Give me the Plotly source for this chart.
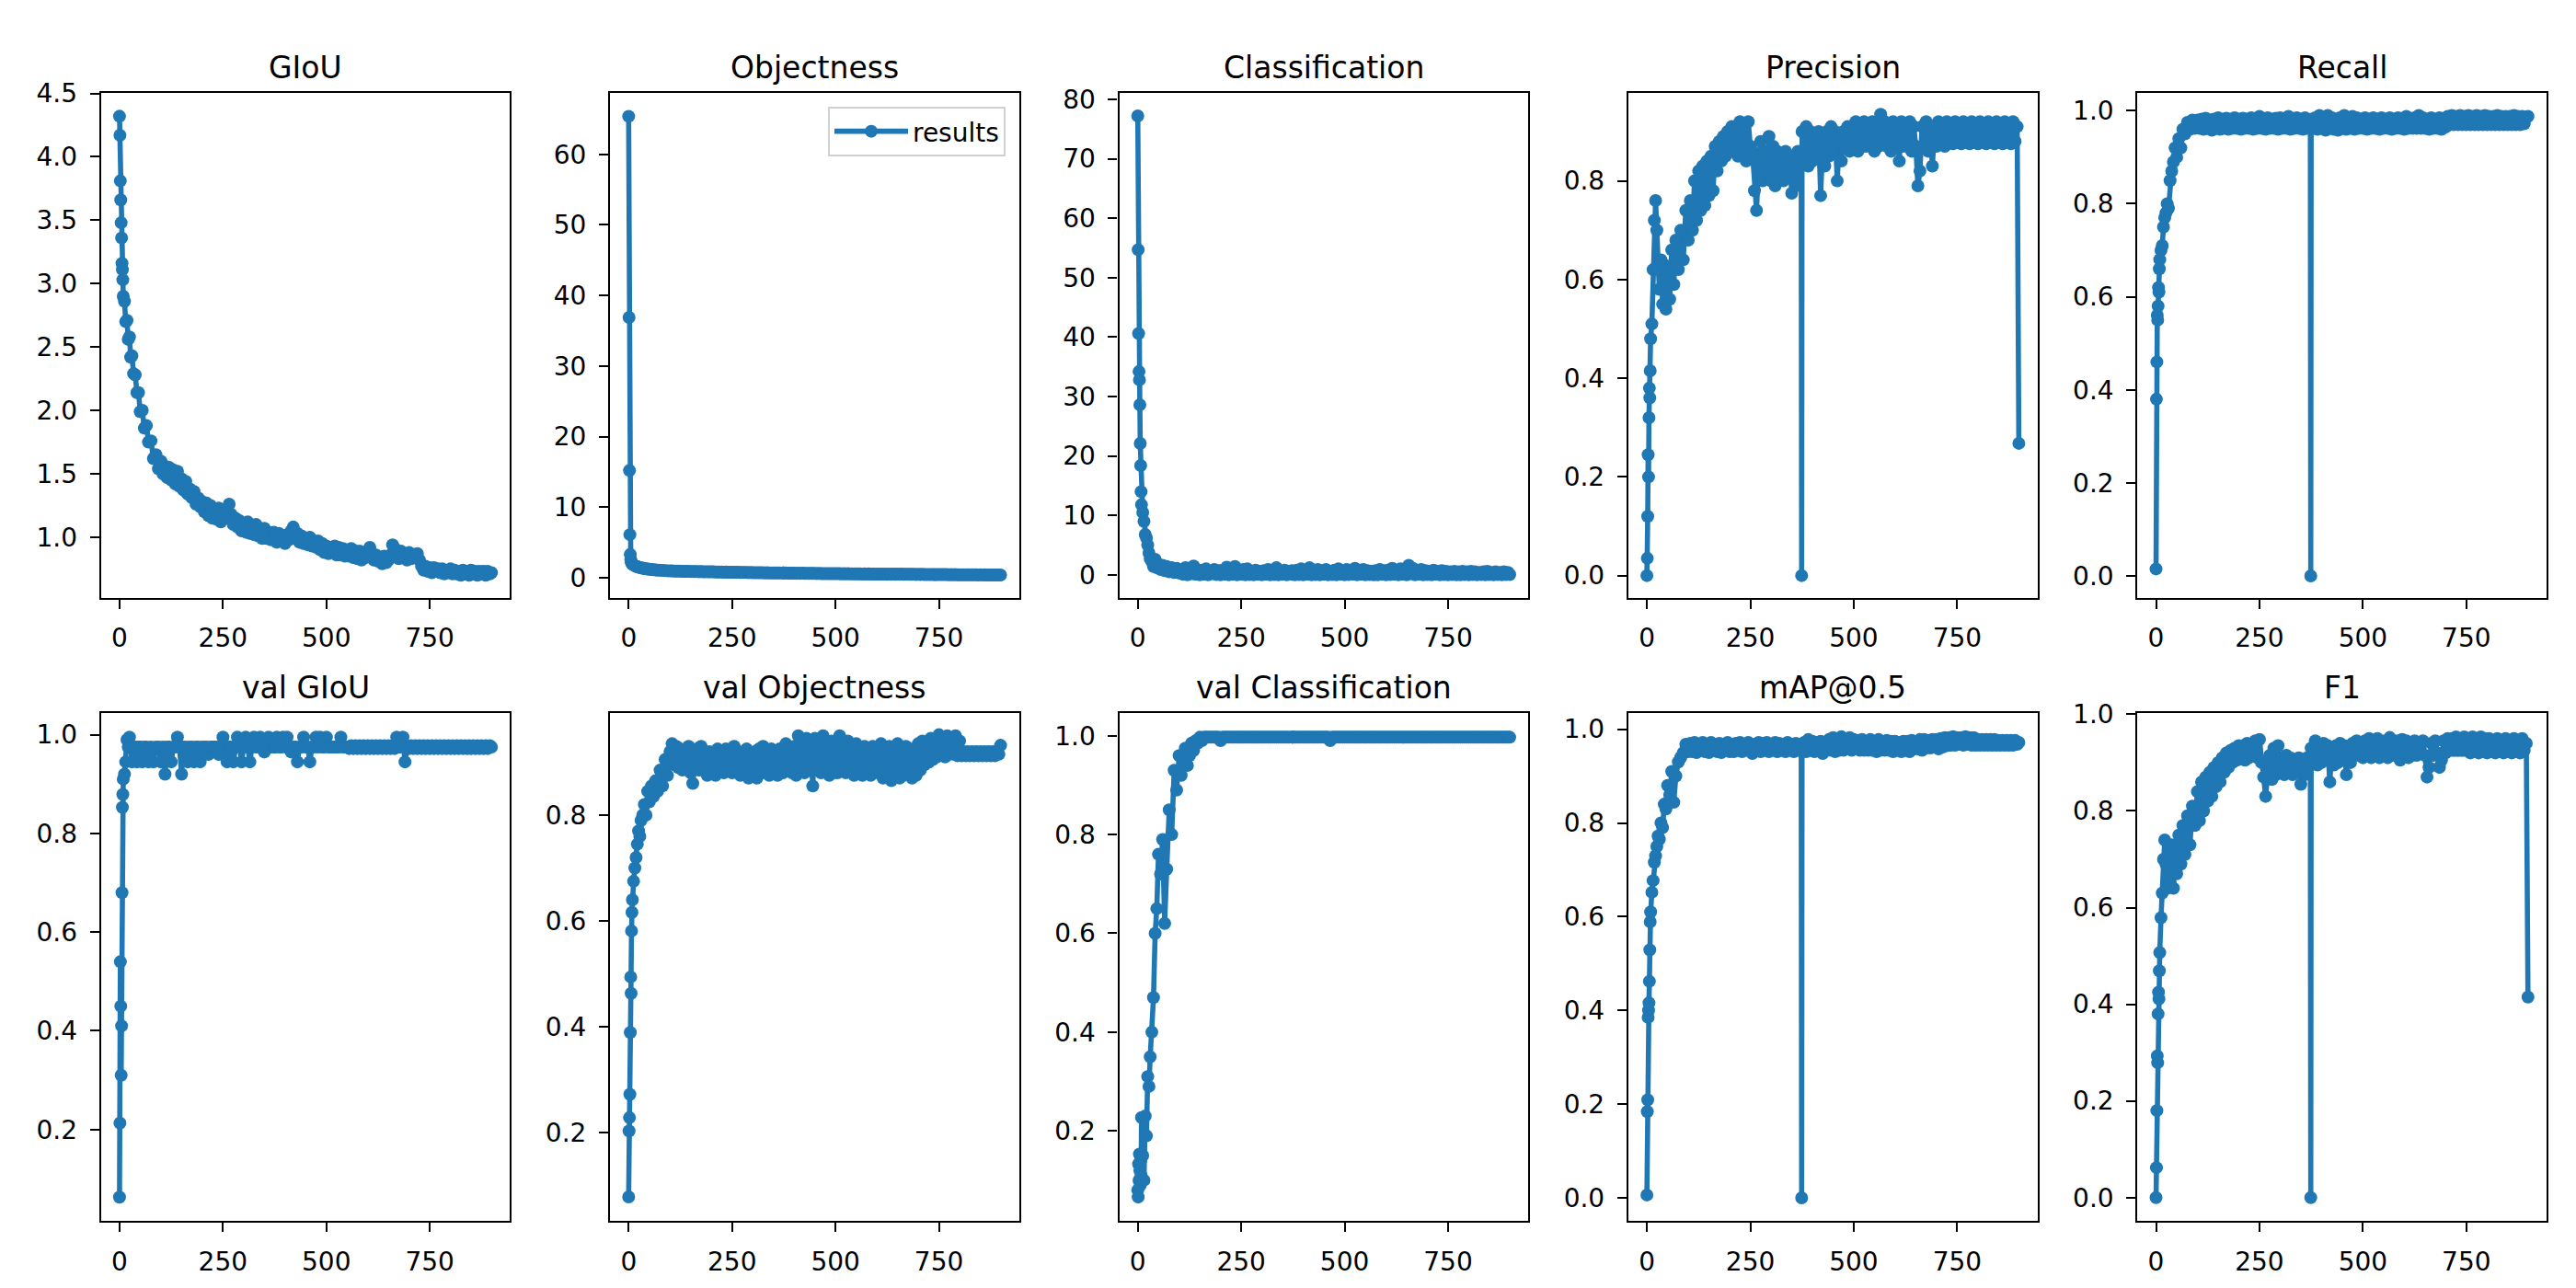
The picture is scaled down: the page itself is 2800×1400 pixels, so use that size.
import plotly.graph_objects as go

# ---------------- data ----------------
EPOCHS = [0, 1, 2, 3, 4, 5, 6, 7, 8, 9,
          12, 15, 18, 21, 24, 27, 30, 34, 38, 42, 46, 50, 55, 60, 65, 70, 76, 82, 88, 94, 100,
          105, 110, 115, 120, 125, 130, 135, 140, 145, 150,
          155, 160, 165, 170, 175, 180, 185, 190, 195, 200,
          205, 210, 215, 220, 225, 230, 235, 240, 245, 250,
          255, 260, 265, 270, 275, 280, 285, 290, 295, 300,
          305, 310, 315, 320, 325, 330, 335, 340, 345, 350,
          355, 360, 365,
          373, 374, 375,
          380, 385, 390, 395, 400, 405, 410, 415, 420, 425,
          430, 435, 440, 445, 450, 455, 460, 465, 470, 475,
          480, 485, 490, 495, 500, 505, 510, 515, 520, 525,
          530, 535, 540, 545, 550, 555, 560, 565, 570, 575,
          580, 585, 590, 595, 600, 605, 610, 615, 620, 625,
          630, 635, 640, 645, 650, 655, 660, 665, 670, 675,
          680, 685, 690, 695, 700, 705, 710, 715, 720, 725,
          730, 735, 740, 745, 750, 755, 760, 765, 770, 775,
          780, 785, 790, 795, 800, 805, 810, 815, 820, 825,
          830, 835, 840, 845, 850, 855, 860, 865, 870, 875,
          880, 885, 890, 895,
          899]

GIOU = [4.32, 4.17, 3.81, 3.66, 3.48, 3.36, 3.16, 3.11, 3.03, 2.90,
        2.86, 2.70, 2.71, 2.56, 2.58, 2.42, 2.43, 2.29, 2.28, 2.14, 2.14, 1.99, 2.00, 1.86, 1.88,
        1.75, 1.76, 1.62, 1.65, 1.54, 1.60,
        1.50, 1.56, 1.47, 1.55, 1.45, 1.53, 1.42, 1.52, 1.40, 1.46,
        1.37, 1.44, 1.34, 1.38, 1.31, 1.36, 1.26, 1.31, 1.24, 1.28,
        1.20, 1.27, 1.17, 1.25, 1.15, 1.22, 1.14, 1.23, 1.12, 1.19,
        1.15, 1.21, 1.26, 1.18, 1.10, 1.15, 1.08, 1.13, 1.05, 1.11,
        1.04, 1.12, 1.03, 1.09, 1.02, 1.10, 1.01, 1.06, 0.99, 1.07,
        0.99, 1.04, 0.98,
        1.04, 0.98, 1.02,
        0.96, 1.03, 0.97, 1.01, 0.95, 1.02, 0.98, 1.05, 1.08, 0.99,
        1.03, 0.96, 1.01, 0.95, 0.99, 0.94, 1.00, 0.93, 0.97, 0.92,
        0.97, 0.90, 0.95, 0.88, 0.93, 0.87, 0.92, 0.89, 0.93, 0.86,
        0.92, 0.86, 0.91, 0.85, 0.90, 0.85, 0.91, 0.84, 0.89, 0.83,
        0.89, 0.82, 0.88, 0.84, 0.89, 0.92, 0.87, 0.82, 0.86, 0.81,
        0.84, 0.79, 0.85, 0.80, 0.82, 0.86, 0.94, 0.91, 0.86, 0.83,
        0.89, 0.84, 0.87, 0.82, 0.88, 0.83, 0.86, 0.84, 0.87, 0.82,
        0.77, 0.74, 0.77, 0.73, 0.76, 0.72, 0.76, 0.73, 0.75, 0.72,
        0.75, 0.71, 0.74, 0.72, 0.75, 0.71, 0.74, 0.71, 0.73, 0.70,
        0.74, 0.71, 0.73, 0.70, 0.74, 0.71, 0.73, 0.70, 0.73, 0.71,
        0.73, 0.70, 0.73, 0.71,
        0.72]

OBJECTNESS = [65.4, 36.9, 15.2, 6.1, 3.3, 2.6, 2.3, 2.1, 2.0, 1.9,
              1.8, 1.7, 1.6, 1.55, 1.5, 1.45, 1.4, 1.35, 1.3, 1.25, 1.22, 1.2, 1.15, 1.12, 1.1,
              1.07, 1.05, 1.02, 1.0, 0.98, 0.96,
              0.96, 0.94, 0.95, 0.92, 0.93, 0.90, 0.91, 0.89, 0.90, 0.88,
              0.88, 0.86, 0.87, 0.85, 0.86, 0.84, 0.85, 0.83, 0.84, 0.82,
              0.82, 0.80, 0.81, 0.79, 0.80, 0.78, 0.79, 0.77, 0.78, 0.76,
              0.77, 0.75, 0.76, 0.74, 0.75, 0.73, 0.74, 0.72, 0.73, 0.71,
              0.72, 0.70, 0.71, 0.69, 0.70, 0.68, 0.69, 0.67, 0.68, 0.66,
              0.67, 0.66, 0.67,
              0.66, 0.67, 0.66,
              0.66, 0.64, 0.65, 0.63, 0.64, 0.62, 0.63, 0.62, 0.63, 0.61,
              0.62, 0.60, 0.61, 0.60, 0.61, 0.59, 0.60, 0.58, 0.59, 0.58,
              0.59, 0.57, 0.58, 0.56, 0.57, 0.56, 0.57, 0.55, 0.56, 0.55,
              0.56, 0.54, 0.55, 0.53, 0.54, 0.53, 0.54, 0.52, 0.53, 0.52,
              0.53, 0.51, 0.52, 0.51, 0.52, 0.50, 0.51, 0.50, 0.51, 0.49,
              0.50, 0.49, 0.50, 0.48, 0.52, 0.49, 0.50, 0.48, 0.49, 0.47,
              0.48, 0.47, 0.48, 0.46, 0.47, 0.46, 0.47, 0.45, 0.46, 0.45,
              0.46, 0.44, 0.45, 0.44, 0.45, 0.43, 0.44, 0.43, 0.44, 0.42,
              0.43, 0.42, 0.43, 0.41, 0.42, 0.41, 0.42, 0.40, 0.41, 0.40,
              0.41, 0.40, 0.41, 0.39, 0.40, 0.39, 0.40, 0.38, 0.39, 0.38,
              0.39, 0.38, 0.39, 0.38,
              0.38]

CLASSIFICATION = [77.2, 54.7, 40.6, 34.2, 32.8, 28.6, 22.1, 18.4, 14.0, 11.8,
                  10.5, 9.0, 6.8, 6.2, 5.0, 3.7, 2.7, 2.2, 1.4, 2.6, 1.2, 1.8, 0.9, 1.6, 0.7,
                  1.4, 0.5, 1.2, 0.4, 1.1, 0.3,
                  0.9, 0.1, 1.2, 0.0, 0.8, 0.2, 1.5, 0.1, 0.7, 0.0,
                  0.8, 0.1, 1.0, 0.0, 0.6, 0.2, 0.9, 0.05, 0.7, 0.0,
                  0.8, 0.1, 1.3, 0.0, 0.7, 0.1, 1.4, 0.0, 0.6, 0.1,
                  0.9, 0.0, 1.0, 0.05, 0.6, 0.0, 0.8, 0.1, 0.6, 0.0,
                  0.7, 0.1, 0.9, 0.0, 0.6, 0.05, 1.2, 0.0, 0.6, 0.1,
                  0.8, 0.0, 0.6,
                  0.7, 0.1, 0.6,
                  0.0, 0.8, 0.05, 1.0, 0.0, 0.7, 0.1, 1.2, 0.0, 0.6,
                  0.05, 0.9, 0.0, 0.7, 0.1, 0.9, 0.0, 0.6, 0.05, 0.8,
                  0.0, 1.0, 0.1, 0.7, 0.0, 0.9, 0.05, 0.6, 0.1, 1.1,
                  0.0, 0.8, 0.1, 0.9, 0.0, 0.7, 0.05, 0.6, 0.0, 0.7,
                  0.0, 0.9, 0.1, 0.7, 0.0, 0.8, 0.05, 1.1, 0.1, 0.8,
                  0.0, 1.0, 0.1, 0.7, 0.0, 1.6, 0.2, 1.1, 0.0, 0.8,
                  0.1, 0.9, 0.0, 0.7, 0.05, 0.6, 0.0, 0.8, 0.1, 0.6,
                  0.0, 0.7, 0.05, 0.6, 0.0, 0.5, 0.05, 0.6, 0.0, 0.5,
                  0.0, 0.6, 0.05, 0.5, 0.0, 0.6, 0.05, 0.5, 0.0, 0.4,
                  0.05, 0.5, 0.0, 0.6, 0.05, 0.4, 0.0, 0.5, 0.05, 0.4,
                  0.0, 0.5, 0.05, 0.4,
                  0.05]

PRECISION = [0.0, 0.035, 0.12, 0.245, 0.20, 0.32, 0.38, 0.36, 0.415, 0.48,
             0.51, 0.62, 0.72, 0.76, 0.70, 0.62, 0.58, 0.64, 0.55, 0.63, 0.54, 0.62, 0.56, 0.66,
             0.59, 0.68, 0.62, 0.70, 0.64, 0.74, 0.68,
             0.76, 0.70, 0.80, 0.72, 0.82, 0.74, 0.83, 0.75, 0.84, 0.77,
             0.85, 0.78, 0.87, 0.82, 0.88, 0.84, 0.89, 0.85, 0.90, 0.86,
             0.91, 0.86, 0.90, 0.85, 0.92, 0.86, 0.91, 0.84, 0.92, 0.87,
             0.86, 0.78, 0.74, 0.84, 0.88, 0.80, 0.86, 0.82, 0.89, 0.80,
             0.87, 0.79, 0.86, 0.81, 0.85, 0.80, 0.86, 0.82, 0.85, 0.775,
             0.84, 0.79, 0.86,
             0.86, 0.0, 0.90,
             0.85, 0.91, 0.83, 0.90, 0.84, 0.89, 0.85, 0.90, 0.77, 0.88,
             0.83, 0.90, 0.85, 0.91, 0.86, 0.90, 0.80, 0.88, 0.84, 0.90,
             0.87, 0.91, 0.86, 0.90, 0.87, 0.92, 0.86, 0.91, 0.87, 0.92,
             0.87, 0.91, 0.88, 0.92, 0.86, 0.91, 0.87, 0.935, 0.88, 0.92,
             0.87, 0.91, 0.86, 0.92, 0.88, 0.91, 0.84, 0.92, 0.87, 0.915,
             0.88, 0.92, 0.86, 0.91, 0.87, 0.79, 0.82, 0.91, 0.87, 0.92,
             0.86, 0.91, 0.83, 0.90, 0.87, 0.92, 0.88, 0.91, 0.87, 0.92,
             0.88, 0.915, 0.875, 0.92, 0.88, 0.915, 0.875, 0.92, 0.88, 0.915,
             0.875, 0.92, 0.88, 0.915, 0.875, 0.92, 0.88, 0.915, 0.875, 0.92,
             0.88, 0.915, 0.875, 0.92, 0.88, 0.915, 0.875, 0.92, 0.88, 0.915,
             0.875, 0.92, 0.88, 0.91,
             0.268]

RECALL = [0.015, 0.38, 0.46, 0.56, 0.55, 0.58, 0.62, 0.61, 0.66, 0.68,
          0.70, 0.71, 0.75, 0.77, 0.78, 0.80, 0.79, 0.85, 0.87, 0.89, 0.92, 0.90, 0.94, 0.92,
          0.96, 0.95, 0.975, 0.96, 0.98, 0.962, 0.98,
          0.962, 0.982, 0.96, 0.984, 0.962, 0.98, 0.958, 0.982, 0.962, 0.985,
          0.96, 0.982, 0.962, 0.984, 0.96, 0.982, 0.962, 0.985, 0.962, 0.982,
          0.96, 0.984, 0.962, 0.982, 0.962, 0.985, 0.96, 0.982, 0.962, 0.988,
          0.962, 0.982, 0.96, 0.985, 0.962, 0.982, 0.962, 0.984, 0.96, 0.985,
          0.962, 0.982, 0.962, 0.988, 0.96, 0.982, 0.962, 0.985, 0.962, 0.982,
          0.96, 0.985, 0.962,
          0.965, 0.0, 0.982,
          0.962, 0.985, 0.96, 0.99, 0.962, 0.985, 0.958, 0.99, 0.962, 0.985,
          0.96, 0.982, 0.958, 0.985, 0.962, 0.99, 0.96, 0.982, 0.962, 0.988,
          0.96, 0.985, 0.962, 0.982, 0.962, 0.985, 0.96, 0.982, 0.962, 0.985,
          0.962, 0.982, 0.96, 0.985, 0.962, 0.982, 0.962, 0.985, 0.96, 0.982,
          0.962, 0.985, 0.962, 0.982, 0.96, 0.988, 0.962, 0.982, 0.962, 0.985,
          0.962, 0.99, 0.962, 0.985, 0.962, 0.982, 0.96, 0.985, 0.962, 0.982,
          0.962, 0.985, 0.96, 0.982, 0.965, 0.988, 0.97, 0.99, 0.97, 0.988,
          0.97, 0.99, 0.97, 0.988, 0.97, 0.99, 0.97, 0.988, 0.97, 0.99,
          0.97, 0.988, 0.97, 0.99, 0.97, 0.988, 0.97, 0.988, 0.97, 0.99,
          0.97, 0.988, 0.97, 0.988, 0.97, 0.988, 0.97, 0.99, 0.97, 0.988,
          0.97, 0.988, 0.972, 0.985,
          0.988]

VAL_GIOU = [0.063, 0.213, 0.54, 0.45, 0.31, 0.41, 0.68, 0.853, 0.879, 0.91,
            0.92, 0.945, 0.99, 0.975, 0.995, 0.975, 0.945, 0.975, 0.975, 0.945, 0.975, 0.975,
            0.945, 0.975, 0.975, 0.945, 0.975, 0.945, 0.975, 0.975, 0.945,
            0.975, 0.92, 0.975, 0.975, 0.945, 0.975, 0.975, 0.995, 0.975, 0.92,
            0.975, 0.975, 0.945, 0.975, 0.975, 0.945, 0.975, 0.975, 0.945, 0.975,
            0.975, 0.975, 0.96, 0.975, 0.975, 0.975, 0.975, 0.96, 0.975, 0.995,
            0.975, 0.945, 0.975, 0.975, 0.945, 0.975, 0.995, 0.975, 0.945, 0.975,
            0.995, 0.975, 0.945, 0.975, 0.995, 0.975, 0.975, 0.995, 0.975, 0.965,
            0.975, 0.995, 0.975,
            0.975, 0.975, 0.975,
            0.995, 0.975, 0.975, 0.995, 0.975, 0.995, 0.975, 0.965, 0.975, 0.975,
            0.945, 0.975, 0.975, 0.995, 0.975, 0.975, 0.945, 0.975, 0.975, 0.995,
            0.975, 0.995, 0.975, 0.975, 0.995, 0.975, 0.975, 0.975, 0.975, 0.975,
            0.975, 0.995, 0.975, 0.975, 0.975, 0.972, 0.978, 0.972, 0.978, 0.972,
            0.978, 0.972, 0.978, 0.972, 0.978, 0.972, 0.978, 0.972, 0.978, 0.972,
            0.978, 0.972, 0.978, 0.972, 0.978, 0.972, 0.978, 0.972, 0.995, 0.975,
            0.975, 0.995, 0.945, 0.975, 0.972, 0.978, 0.972, 0.978, 0.972, 0.978,
            0.972, 0.978, 0.972, 0.978, 0.972, 0.978, 0.972, 0.978, 0.972, 0.978,
            0.972, 0.978, 0.972, 0.978, 0.972, 0.978, 0.972, 0.978, 0.972, 0.978,
            0.972, 0.978, 0.972, 0.978, 0.972, 0.978, 0.972, 0.978, 0.972, 0.978,
            0.972, 0.978, 0.972, 0.978,
            0.975]

VAL_OBJECTNESS = [0.078, 0.203, 0.228, 0.272, 0.389, 0.494, 0.463, 0.581, 0.616, 0.64,
                  0.675, 0.70, 0.72, 0.745, 0.77, 0.76, 0.79, 0.80, 0.82, 0.80, 0.845, 0.825,
                  0.855, 0.835, 0.865, 0.845, 0.885, 0.855, 0.905, 0.875, 0.92,
                  0.935, 0.895, 0.93, 0.89, 0.925, 0.885, 0.92, 0.90, 0.93, 0.88,
                  0.86, 0.91, 0.925, 0.885, 0.93, 0.89, 0.915, 0.875, 0.92, 0.88,
                  0.915, 0.875, 0.925, 0.885, 0.92, 0.88, 0.925, 0.885, 0.915, 0.88,
                  0.93, 0.885, 0.92, 0.875, 0.915, 0.88, 0.925, 0.87, 0.915, 0.875,
                  0.92, 0.87, 0.925, 0.885, 0.93, 0.88, 0.92, 0.875, 0.925, 0.88,
                  0.915, 0.875, 0.925,
                  0.88, 0.925, 0.885,
                  0.935, 0.885, 0.92, 0.88, 0.93, 0.875, 0.95, 0.89, 0.935, 0.88,
                  0.945, 0.89, 0.93, 0.855, 0.945, 0.885, 0.94, 0.88, 0.95, 0.89,
                  0.935, 0.875, 0.94, 0.88, 0.925, 0.88, 0.95, 0.895, 0.93, 0.88,
                  0.94, 0.885, 0.93, 0.875, 0.935, 0.88, 0.925, 0.875, 0.93, 0.88,
                  0.92, 0.875, 0.93, 0.88, 0.925, 0.885, 0.935, 0.87, 0.925, 0.88,
                  0.93, 0.865, 0.925, 0.88, 0.935, 0.87, 0.92, 0.875, 0.93, 0.88,
                  0.925, 0.87, 0.92, 0.875, 0.935, 0.885, 0.94, 0.895, 0.93, 0.90,
                  0.945, 0.905, 0.94, 0.91, 0.952, 0.915, 0.945, 0.91, 0.95, 0.915,
                  0.945, 0.915, 0.95, 0.912, 0.94, 0.912, 0.92, 0.912, 0.92, 0.912,
                  0.92, 0.912, 0.92, 0.912, 0.92, 0.912, 0.92, 0.912, 0.92, 0.912,
                  0.92, 0.912, 0.92, 0.915,
                  0.932]

VAL_CLASSIFICATION = [0.08, 0.066, 0.133, 0.10, 0.153, 0.12, 0.09, 0.14, 0.11, 0.227,
                      0.15, 0.10, 0.23, 0.19, 0.31, 0.29, 0.35, 0.40, 0.47, 0.60, 0.65, 0.76,
                      0.72, 0.79, 0.62, 0.73, 0.85, 0.80, 0.93, 0.89, 0.96,
                      0.92, 0.95, 0.975, 0.94, 0.96, 0.985, 0.97, 0.99, 0.985, 0.997,
                      0.99, 0.997, 0.997, 0.997, 0.997, 0.997, 0.997, 0.997, 0.997, 0.99,
                      0.997, 0.997, 0.997, 0.997, 0.997, 0.997, 0.997, 0.997, 0.997, 0.997,
                      0.997, 0.997, 0.997, 0.997, 0.997, 0.997, 0.997, 0.997, 0.997, 0.997,
                      0.997, 0.997, 0.997, 0.997, 0.997, 0.997, 0.997, 0.997, 0.997, 0.997,
                      0.997, 0.997, 0.997,
                      0.997, 0.997, 0.997,
                      0.997, 0.997, 0.997, 0.997, 0.997, 0.997, 0.997, 0.997, 0.997, 0.997,
                      0.997, 0.997, 0.997, 0.997, 0.997, 0.997, 0.997, 0.99, 0.997, 0.997,
                      0.997, 0.997, 0.997, 0.997, 0.997, 0.997, 0.997, 0.997, 0.997, 0.997,
                      0.997, 0.997, 0.997, 0.997, 0.997, 0.997, 0.997, 0.997, 0.997, 0.997,
                      0.997, 0.997, 0.997, 0.997, 0.997, 0.997, 0.997, 0.997, 0.997, 0.997,
                      0.997, 0.997, 0.997, 0.997, 0.997, 0.997, 0.997, 0.997, 0.997, 0.997,
                      0.997, 0.997, 0.997, 0.997, 0.997, 0.997, 0.997, 0.997, 0.997, 0.997,
                      0.997, 0.997, 0.997, 0.997, 0.997, 0.997, 0.997, 0.997, 0.997, 0.997,
                      0.997, 0.997, 0.997, 0.997, 0.997, 0.997, 0.997, 0.997, 0.997, 0.997,
                      0.997, 0.997, 0.997, 0.997, 0.997, 0.997, 0.997, 0.997, 0.997, 0.997,
                      0.997, 0.997, 0.997, 0.997,
                      0.997]

MAP05 = [0.006, 0.184, 0.209, 0.385, 0.40, 0.416, 0.462, 0.529, 0.589, 0.61,
         0.652, 0.677, 0.716, 0.73, 0.75, 0.772, 0.765, 0.80, 0.79, 0.84, 0.83, 0.88, 0.86,
         0.91, 0.844, 0.90, 0.93, 0.94, 0.95, 0.968, 0.952,
         0.97, 0.952, 0.972, 0.95, 0.968, 0.955, 0.972, 0.952, 0.968, 0.95,
         0.972, 0.955, 0.968, 0.952, 0.97, 0.95, 0.968, 0.955, 0.972, 0.952,
         0.966, 0.952, 0.97, 0.955, 0.972, 0.952, 0.968, 0.955, 0.972, 0.955,
         0.948, 0.968, 0.955, 0.972, 0.952, 0.97, 0.955, 0.972, 0.952, 0.968,
         0.955, 0.972, 0.952, 0.97, 0.955, 0.968, 0.952, 0.972, 0.955, 0.968,
         0.952, 0.97, 0.955,
         0.968, 0.0, 0.968,
         0.972, 0.952, 0.978, 0.955, 0.974, 0.952, 0.972, 0.955, 0.974, 0.948,
         0.972, 0.955, 0.978, 0.955, 0.982, 0.952, 0.978, 0.955, 0.984, 0.955,
         0.978, 0.958, 0.982, 0.955, 0.978, 0.958, 0.976, 0.955, 0.978, 0.955,
         0.974, 0.955, 0.978, 0.955, 0.974, 0.952, 0.978, 0.955, 0.974, 0.955,
         0.976, 0.955, 0.974, 0.952, 0.974, 0.955, 0.972, 0.952, 0.974, 0.955,
         0.974, 0.952, 0.976, 0.958, 0.974, 0.958, 0.978, 0.955, 0.978, 0.96,
         0.976, 0.96, 0.978, 0.962, 0.978, 0.958, 0.98, 0.962, 0.982, 0.965,
         0.982, 0.966, 0.984, 0.966, 0.982, 0.968, 0.982, 0.966, 0.984, 0.968,
         0.982, 0.966, 0.982, 0.966, 0.978, 0.966, 0.978, 0.966, 0.978, 0.966,
         0.978, 0.966, 0.978, 0.966, 0.976, 0.966, 0.976, 0.966, 0.976, 0.966,
         0.976, 0.966, 0.976, 0.968,
         0.972]

F1 = [0.0, 0.062, 0.18, 0.293, 0.279, 0.38, 0.425, 0.411, 0.469, 0.507,
      0.579, 0.63, 0.70, 0.74, 0.69, 0.64, 0.71, 0.65, 0.73, 0.64, 0.72, 0.67, 0.75, 0.69,
      0.77, 0.71, 0.79, 0.73, 0.81, 0.77, 0.84,
      0.78, 0.86, 0.80, 0.87, 0.82, 0.88, 0.83, 0.89, 0.85, 0.90,
      0.86, 0.91, 0.88, 0.92, 0.89, 0.925, 0.90, 0.93, 0.905, 0.935,
      0.91, 0.935, 0.905, 0.94, 0.91, 0.935, 0.915, 0.945, 0.91, 0.948,
      0.90, 0.87, 0.83, 0.88, 0.915, 0.865, 0.93, 0.875, 0.935, 0.88,
      0.91, 0.875, 0.915, 0.885, 0.91, 0.875, 0.905, 0.88, 0.91, 0.855,
      0.90, 0.875, 0.91,
      0.91, 0.0, 0.93,
      0.915, 0.945, 0.895, 0.935, 0.90, 0.94, 0.905, 0.935, 0.86, 0.925,
      0.895, 0.935, 0.90, 0.94, 0.905, 0.935, 0.875, 0.925, 0.90, 0.94,
      0.915, 0.945, 0.915, 0.94, 0.91, 0.945, 0.915, 0.95, 0.91, 0.945,
      0.915, 0.95, 0.91, 0.945, 0.915, 0.94, 0.91, 0.952, 0.915, 0.945,
      0.915, 0.945, 0.905, 0.948, 0.915, 0.945, 0.91, 0.94, 0.915, 0.945,
      0.915, 0.94, 0.92, 0.945, 0.915, 0.87, 0.89, 0.94, 0.915, 0.945,
      0.92, 0.89, 0.905, 0.945, 0.92, 0.95, 0.925, 0.95, 0.925, 0.953,
      0.925, 0.95, 0.925, 0.953, 0.925, 0.95, 0.92, 0.953, 0.925, 0.95,
      0.92, 0.953, 0.925, 0.95, 0.92, 0.95, 0.925, 0.945, 0.92, 0.95,
      0.925, 0.945, 0.92, 0.95, 0.925, 0.945, 0.92, 0.95, 0.925, 0.945,
      0.92, 0.95, 0.925, 0.94,
      0.415]

TITLES = ["GIoU", "Objectness", "Classification", "Precision", "Recall",
          "val GIoU", "val Objectness", "val Classification", "mAP@0.5", "F1"]
SERIES = [GIOU, OBJECTNESS, CLASSIFICATION, PRECISION, RECALL,
          VAL_GIOU, VAL_OBJECTNESS, VAL_CLASSIFICATION, MAP05, F1]
X_TICKS = [0, 250, 500, 750]
Y_TICKS = [
    [1.0, 1.5, 2.0, 2.5, 3.0, 3.5, 4.0, 4.5],
    [0, 10, 20, 30, 40, 50, 60],
    [0, 10, 20, 30, 40, 50, 60, 70, 80],
    [0.0, 0.2, 0.4, 0.6, 0.8],
    [0.0, 0.2, 0.4, 0.6, 0.8, 1.0],
    [0.2, 0.4, 0.6, 0.8, 1.0],
    [0.2, 0.4, 0.6, 0.8],
    [0.2, 0.4, 0.6, 0.8, 1.0],
    [0.0, 0.2, 0.4, 0.6, 0.8, 1.0],
    [0.0, 0.2, 0.4, 0.6, 0.8, 1.0],
]
Y_FORMATS = [".1f", "d", "d", ".1f", ".1f", ".1f", ".1f", ".1f", ".1f", ".1f"]
Y_RANGES = [
    [0.522, 4.503], [-2.85, 68.7], [-3.86, 81.06], [-0.045, 0.978], [-0.047, 1.038],
    [0.015, 1.0435], [0.033, 0.9925], [0.018, 1.0455], [-0.049, 1.034], [-0.048, 1.002],
]
X_RANGE = [-44.95, 943.95]
LEGEND_LABEL = "results"

for s in SERIES:
    assert len(s) == len(EPOCHS), (len(s), len(EPOCHS))

# ---------------- layout geometry (pixels of a 2800x1400 figure) ----------------
W, H = 2800, 1400
LEFTS = [101.7, 655.1, 1208.5, 1761.9, 2315.3]
AX_W = 444.7
ROWS = [(78, 633), (760, 1318)]
COLOR = "#1f77b4"
FONT = "DejaVu Sans"

fig = go.Figure()
layout = dict(
    width=W, height=H, margin=dict(l=0, r=0, t=0, b=0),
    paper_bgcolor="white", plot_bgcolor="white",
    font=dict(family=FONT, size=28, color="black"),
    showlegend=True,
    legend=dict(x=1085 / W, xanchor="right", y=1 - 93 / H, yanchor="top",
                bgcolor="rgba(255,255,255,0.8)", bordercolor="#d0d0d0", borderwidth=2,
                font=dict(family=FONT, size=28, color="black"), itemwidth=80),
    annotations=[],
)

for i in range(10):
    r, c = divmod(i, 5)
    n = i + 1
    xa = "x" if n == 1 else f"x{n}"
    ya = "y" if n == 1 else f"y{n}"
    fig.add_trace(go.Scatter(
        x=EPOCHS, y=SERIES[i], mode="lines+markers", name=LEGEND_LABEL,
        showlegend=(i == 1), xaxis=xa, yaxis=ya,
        line=dict(color=COLOR, width=5.6),
        marker=dict(color=COLOR, size=14, line=dict(width=0)),
    ))
    top, bot = ROWS[r]
    x0 = LEFTS[c] / W
    x1 = (LEFTS[c] + AX_W) / W
    y0 = 1 - bot / H
    y1 = 1 - top / H
    common = dict(showline=True, linecolor="black", linewidth=2.2, mirror=True,
                  ticks="outside", ticklen=10, tickwidth=2.2, tickcolor="black",
                  showgrid=False, zeroline=False, ticklabelstandoff=8,
                  tickfont=dict(family=FONT, size=28, color="black"))
    layout[f"xaxis{n}"] = dict(domain=[x0, x1], anchor=ya, range=X_RANGE,
                               tickmode="array", tickvals=X_TICKS, **common)
    layout[f"yaxis{n}"] = dict(domain=[y0, y1], anchor=xa, range=Y_RANGES[i],
                               tickmode="array", tickvals=Y_TICKS[i],
                               tickformat=Y_FORMATS[i], **common)
    layout["annotations"].append(dict(
        text=TITLES[i], xref="paper", yref="paper",
        x=(LEFTS[c] + AX_W / 2) / W, y=1 - (top - 28.3) / H,
        xanchor="center", yanchor="middle", showarrow=False,
        font=dict(family=FONT, size=33, color="black")))

fig.update_layout(**layout)
fig.write_html("out.html")
